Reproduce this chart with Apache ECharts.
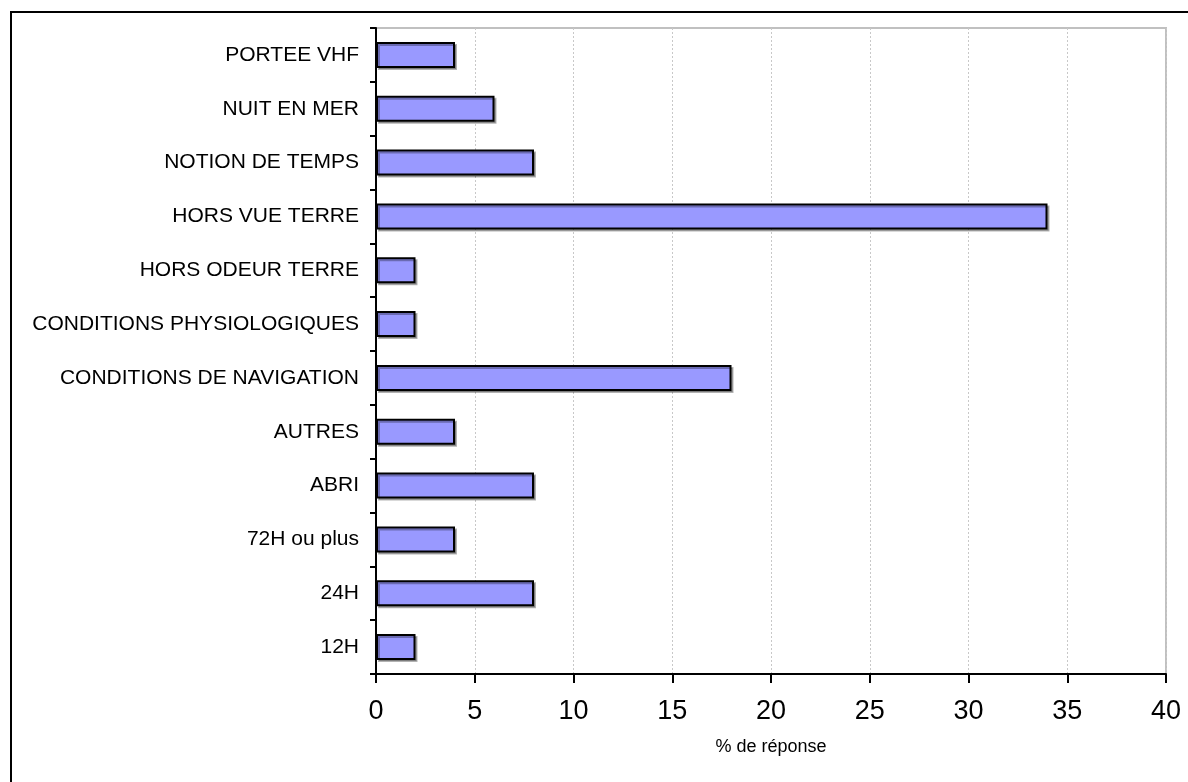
<!DOCTYPE html>
<html>
<head>
<meta charset="utf-8">
<script src="https://cdn.jsdelivr.net/npm/echarts@6/dist/echarts.min.js"></script>
<style>
  html, body { margin: 0; padding: 0; background: #fff; }
  #frame {
    position: absolute; left: 10px; top: 11px; width: 1190px; height: 780px;
    border-left: 2px solid #000; border-top: 2px solid #000;
  }
  #chart { position: absolute; left: 0; top: 0; width: 1188px; height: 782px; }
</style>
</head>
<body>
<div id="frame"></div>
<div id="chart"></div>
<script>
// bottom to top, as the category axis draws them
const categories = [
  '12H', '24H', '72H ou plus', 'ABRI', 'AUTRES',
  'CONDITIONS DE NAVIGATION', 'CONDITIONS PHYSIOLOGIQUES',
  'HORS ODEUR TERRE', 'HORS VUE TERRE', 'NOTION DE TEMPS',
  'NUIT EN MER', 'PORTEE VHF'
];
const reponses = [2, 8, 4, 8, 4, 18, 2, 2, 34, 8, 6, 4];
const axisName = '% de réponse';

const myChart = echarts.init(document.getElementById('chart'), null, {renderer: 'canvas'});

const option = {
  backgroundColor: 'transparent',
  animation: false,
  textStyle: {fontFamily: 'Liberation Sans, Arial, sans-serif', color: '#000'},
  grid: {
    left: 376,
    top: 28,
    right: 22,
    bottom: 108,
    show: true,
    borderColor: '#c0c0c0',
    borderWidth: 2,
    outerBoundsMode: 'none'
  },
  xAxis: {
    type: 'value',
    min: 0,
    max: 40,
    interval: 5,
    name: axisName,
    nameLocation: 'middle',
    nameGap: 64,
    nameTextStyle: {fontSize: 18, color: '#000'},
    axisLine: {show: true, lineStyle: {color: '#000', width: 2}},
    axisTick: {show: true, length: 9, lineStyle: {color: '#000', width: 2}},
    axisLabel: {fontSize: 27, color: '#000', margin: 24},
    splitLine: {show: true, lineStyle: {color: '#c8c8c8', type: [2, 2], width: 1}}
  },
  yAxis: {
    type: 'category',
    data: categories,
    axisLine: {show: true, lineStyle: {color: '#000', width: 2}},
    axisTick: {show: true, length: 6, lineStyle: {color: '#000', width: 2}},
    axisLabel: {fontSize: 21, color: '#000', margin: 17},
    splitLine: {show: false}
  },
  series: [
    {
      type: 'bar',
      data: reponses,
      barWidth: 26,
      itemStyle: {
        color: '#9999ff',
        borderColor: '#000',
        borderWidth: 2,
        shadowColor: 'rgba(0,0,0,0.3)',
        shadowOffsetX: 2,
        shadowOffsetY: 2,
        shadowBlur: 0
      }
    }
  ]
};

myChart.setOption(option);
</script>
</body>
</html>
